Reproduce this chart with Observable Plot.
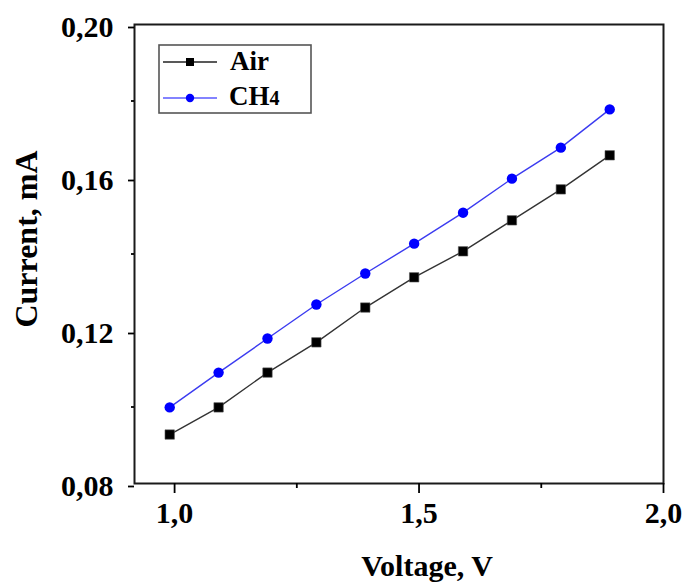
<!DOCTYPE html>
<html>
<head>
<meta charset="utf-8">
<script src="https://cdn.jsdelivr.net/npm/d3@7"></script>
<script src="https://cdn.jsdelivr.net/npm/@observablehq/plot@0.6"></script>
<style>
  html, body { margin: 0; padding: 0; background: #fff; }
</style>
</head>
<body>
<div id="chart"></div>
<script>
const voltage = [0.99, 1.09, 1.19, 1.29, 1.39, 1.49, 1.59, 1.69, 1.79, 1.89];
const airCurrent = [0.0928, 0.0999, 0.1090, 0.1169, 0.1260, 0.1339, 0.1407, 0.1488, 0.1569, 0.1658];
const ch4Current = [0.0999, 0.1090, 0.1179, 0.1268, 0.1349, 0.1427, 0.1508, 0.1597, 0.1678, 0.1778];
const yMajorTicks = [0.08, 0.12, 0.16, 0.20];
const yMinorTicks = [0.10, 0.14, 0.18];
const xMajorTicks = [1.0, 1.5, 2.0];
const xMinorTicks = [1.25, 1.75];
const seriesNames = ["Air", "CH4"];
const xTitle = "Voltage, V";
const yTitle = "Current, mA";

const air = voltage.map((v, i) => ({v, c: airCurrent[i]}));
const ch4 = voltage.map((v, i) => ({v, c: ch4Current[i]}));

const comma = (f) => (d) => f(d).replace(".", ",");
const font = "'Liberation Serif', 'Times New Roman', serif";

const plot = Plot.plot({
  width: 689,
  height: 583,
  marginLeft: 134,
  marginRight: 26,
  marginTop: 24,
  marginBottom: 100,
  style: {fontFamily: font, fontWeight: "bold", fontSize: "30px", background: "#fff", color: "#000"},
  x: {domain: [0.918, 2.0]},
  y: {domain: [0.08, 0.20]},
  marks: [
    Plot.frame({stroke: "#1a1a1a", strokeWidth: 2}),
    Plot.axisY({ticks: yMajorTicks, tickSize: 6, tickPadding: 15, tickFormat: comma(d3.format(".2f")), label: null, fontSize: 30, strokeWidth: 1.8, dy: 3}),
    Plot.axisY({ticks: yMinorTicks, tickSize: 3, text: null, label: null, strokeWidth: 1.8}),
    Plot.axisX({ticks: xMajorTicks, tickSize: 10, tickPadding: 8, tickFormat: comma(d3.format(".1f")), label: null, fontSize: 30, strokeWidth: 1.8}),
    Plot.axisX({ticks: xMinorTicks, tickSize: 5, text: null, label: null, strokeWidth: 1.8}),
    Plot.line(air, {x: "v", y: "c", stroke: "#333", strokeWidth: 1.4}),
    Plot.line(ch4, {x: "v", y: "c", stroke: "#3b3bf0", strokeWidth: 1.4}),
    Plot.dot(air, {x: "v", y: "c", symbol: "square", r: 5.3, fill: "#000", stroke: "#555", strokeWidth: 0.6}),
    Plot.dot(ch4, {x: "v", y: "c", symbol: "circle", r: 5.2, fill: "#0000ff"})
  ]
});

document.getElementById("chart").appendChild(plot);

const svg = d3.select(plot);

// Axis titles
svg.append("text").attr("x", 427).attr("y", 576)
  .attr("text-anchor", "middle").attr("font-family", font).attr("font-weight", "bold")
  .attr("font-size", 30).attr("fill", "#000").text(xTitle);
svg.append("text").attr("transform", "translate(37,239) rotate(-90)")
  .attr("text-anchor", "middle").attr("font-family", font).attr("font-weight", "bold")
  .attr("font-size", 32).attr("fill", "#000").text(yTitle);

// Legend
const lg = svg.append("g").attr("font-family", font).attr("font-weight", "bold").attr("text-anchor", "start");
lg.append("rect").attr("x", 159).attr("y", 45).attr("width", 152).attr("height", 68)
  .attr("fill", "#fff").attr("stroke", "#555").attr("stroke-width", 1.6);
// Air
lg.append("line").attr("x1", 163).attr("x2", 217).attr("y1", 62).attr("y2", 62).attr("stroke", "#222").attr("stroke-width", 1.4);
lg.append("rect").attr("x", 186).attr("y", 58).attr("width", 8).attr("height", 8).attr("fill", "#000");
lg.append("text").attr("x", 230).attr("y", 70).attr("font-size", 27).attr("fill", "#000").text(seriesNames[0]);
// CH4
lg.append("line").attr("x1", 163).attr("x2", 217).attr("y1", 98).attr("y2", 98).attr("stroke", "#5a5aff").attr("stroke-width", 1.4);
lg.append("circle").attr("cx", 190).attr("cy", 98).attr("r", 4.2).attr("fill", "#0000ff");
const t = lg.append("text").attr("x", 229).attr("y", 105).attr("font-size", 27).attr("fill", "#000");
t.append("tspan").text(seriesNames[1].slice(0, 2));
t.append("tspan").attr("font-size", 20).text(seriesNames[1].slice(2));
</script>
</body>
</html>
